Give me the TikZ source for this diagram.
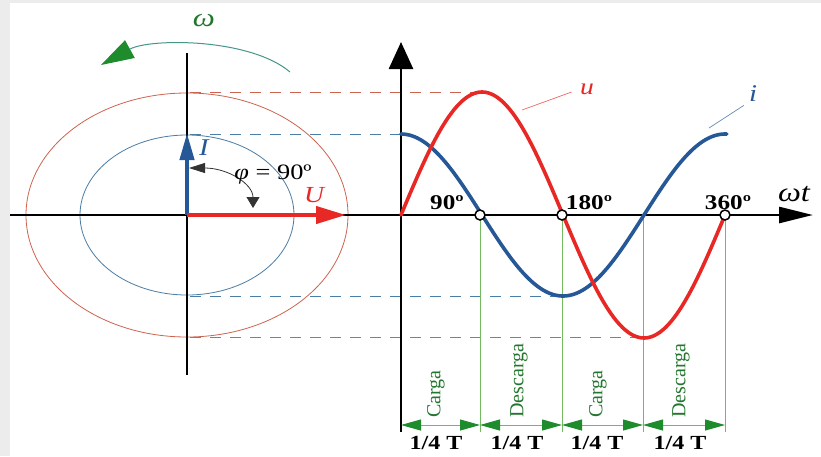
\documentclass[tikz,border=0pt]{standalone}
\usepackage{fontspec}
\setmainfont{Liberation Serif}[FakeStretch=1.2]
\newfontfamily\uprightserif{Liberation Serif}
\usetikzlibrary{arrows.meta,positioning}
\definecolor{URed}{RGB}{232,40,36}
\definecolor{IBlue}{RGB}{38,88,152}
\definecolor{RingRed}{RGB}{205,100,80}
\definecolor{RingBlue}{RGB}{75,125,165}
\definecolor{DeepGreen}{RGB}{30,140,45}
\definecolor{TextGreen}{RGB}{35,118,45}
\definecolor{LineGreen}{RGB}{115,185,95}
\definecolor{ArcTeal}{RGB}{70,150,140}
\definecolor{PageGray}{RGB}{236,236,236}
\tikzset{
  axis/.style={line width=2.6pt,black},
  wave/.style={line width=3.6pt,line cap=round},
  ring/.style={line width=0.8pt},
  dashln/.style={line width=0.8pt,dash pattern=on 11pt off 9pt},
  lbl/.style={font=\fontsize{22}{24}\selectfont,inner sep=0pt},
  deg/.style={font=\fontsize{21}{24}\selectfont\bfseries,inner sep=0pt},
  qlbl/.style={font=\fontsize{20}{22}\selectfont\bfseries,inner sep=0pt},
  vlbl/.style={font=\uprightserif\fontsize{20}{22}\selectfont,text=TextGreen,rotate=90,
               anchor=west,inner sep=0pt},
  mark0/.style={circle,draw=black,fill=white,line width=1.5pt,minimum size=10pt,inner sep=0pt},
  dimarr/.style={LineGreen,line width=1pt,
    {Triangle[length=20pt,width=11pt,color=DeepGreen]}-{Triangle[length=20pt,width=11pt,color=DeepGreen]}},
}

\begin{document}
\begin{tikzpicture}[x=1pt,y=-1pt]
  \useasboundingbox (0,0) rectangle (821,456);
  \fill[PageGray] (0,0) rectangle (821,456);
  \fill[white] (10,3) rectangle (821,456);

  % phasor side
  \coordinate (O) at (187,215);
  \draw[RingRed,ring] (O) ellipse [x radius=161,y radius=122];
  \draw[RingBlue,ring] (O) ellipse [x radius=107,y radius=80];

  % dashed guides
  \coordinate (uTopL) at (190,92);   \coordinate (uTopR) at (478,92);
  \coordinate (iTopL) at (190,134);  \coordinate (iTopR) at (400,134);
  \coordinate (iBotL) at (190,296);  \coordinate (iBotR) at (558,296);
  \coordinate (uBotL) at (190,337);  \coordinate (uBotR) at (640,337);
  \draw[RingRed,dashln] (uTopL) -- (uTopR);
  \draw[RingBlue,dashln] (iTopL) -- (iTopR);
  \draw[RingBlue,dashln] (iBotL) -- (iBotR);
  \draw[RingRed,dashln] (uBotL) -- (uBotR);

  % quarter period lines
  \foreach \n/\xx in {a/480,b/562,c/643,d/725}{
    \coordinate (top\n) at (\xx,215);
    \coordinate (bot\n) at (\xx,432);
    \draw[LineGreen,line width=0.8pt] (top\n) -- (bot\n);
  }

  % axes
  \coordinate (pTop) at (187,53);  \coordinate (pBot) at (187,375);
  \coordinate (hL) at (10,215);    \coordinate (hR) at (813,215);
  \coordinate (vBot) at (401,432); \coordinate (vTop) at (401,42);
  \draw[axis] (pBot) -- (pTop);
  \draw[axis,-{Triangle[length=34pt,width=16pt]}] (hL) -- (hR);
  \draw[axis,-{Triangle[length=27pt,width=24pt]}] (vBot) -- (vTop);

  % phasors
  \coordinate (Itip) at (187,133);
  \coordinate (Utip) at (346,215);
  \draw[IBlue,line width=4.2pt,-{Triangle[length=27pt,width=14pt]}] (O) -- (Itip);
  \draw[URed,line width=4.2pt,-{Triangle[length=30pt,width=17pt]}] (O) -- (Utip);
  \node[lbl,text=IBlue,font=\fontsize{24}{26}\selectfont\itshape] (Ilbl) at (204,148) {I};
  \node[lbl,text=URed,font=\fontsize{23}{25}\selectfont\itshape] (Ulbl) at (314,195) {U};

  % phase angle
  \coordinate (phiA) at (189,168);
  \coordinate (phiB) at (253,208);
  \draw[black!80,line width=0.8pt,
    {Triangle[length=16pt,width=10pt]}-{Triangle[length=11pt,width=13pt]}]
    (phiA) .. controls (228,168) and (253,184) .. (phiB);
  \node[lbl,font=\fontsize{22}{24}\selectfont] (philbl) at (273,175) {\textit{φ} = 90º};

  % rotation
  \coordinate (wR) at (290,72);
  \coordinate (wL) at (101,65);
  \draw[ArcTeal,line width=1pt,-{Triangle[length=33pt,width=20pt,color=DeepGreen]}]
    (wR) .. controls (250,38) and (150,38) .. (wL);
  \node[lbl,text=TextGreen,font=\fontsize{26}{28}\selectfont\itshape] (wlbl) at (204,21) {ω};

  % waves
  \draw[wave,IBlue] plot[domain=0:362,samples=121,smooth]
    ({401+0.9*\x},{215-81*cos(\x)});
  \draw[wave,URed] plot[domain=0:360,samples=121,smooth]
    ({401+0.9*\x},{215-123*sin(\x)});

  % zero marks and angle labels
  \node[mark0] (c90) at (480,215) {};
  \node[mark0] (c180) at (562,215) {};
  \node[mark0] (c360) at (725,215) {};
  \node[deg] (d90) at (447,203) {90º};
  \node[deg] (d180) at (589,203) {180º};
  \node[deg] (d360) at (728,203) {360º};
  \node[lbl,font=\fontsize{27}{29}\selectfont\itshape] (wt) at (794,194) {ωt};

  % curve labels
  \node[lbl,text=URed,font=\fontsize{23}{25}\selectfont\itshape] (ulbl) at (587,89) {u};
  \node[lbl,text=IBlue,font=\fontsize{24}{26}\selectfont\itshape] (ilbl) at (753,94) {i};
  \coordinate (uleg) at (522,110);
  \coordinate (ileg) at (709,128);
  \draw[URed!70,line width=0.7pt,shorten >=9pt] (uleg) -- (ulbl.west);
  \draw[IBlue!70,line width=0.7pt,shorten >=6pt] (ileg) -- (ilbl.south west);

  % charge / discharge quarters
  \coordinate (dim0) at (401,425);
  \coordinate (dima) at (480,425);
  \coordinate (dimb) at (562,425);
  \coordinate (dimc) at (643,425);
  \coordinate (dimd) at (725,425);
  \draw[dimarr] (dim0) -- (dima);
  \draw[dimarr] (dima) -- (dimb);
  \draw[dimarr] (dimb) -- (dimc);
  \draw[dimarr] (dimc) -- (dimd);
  \node[vlbl] (ch1) at (436,418) {Carga};
  \node[vlbl] (dc1) at (519,418) {Descarga};
  \node[vlbl] (ch2) at (598,418) {Carga};
  \node[vlbl] (dc2) at (681,418) {Descarga};
  \node[qlbl] (q1) at (436,443) {1/4 T};
  \node[qlbl] (q2) at (517,443) {1/4 T};
  \node[qlbl] (q3) at (597,443) {1/4 T};
  \node[qlbl] (q4) at (680,443) {1/4 T};
\end{tikzpicture}
\end{document}
